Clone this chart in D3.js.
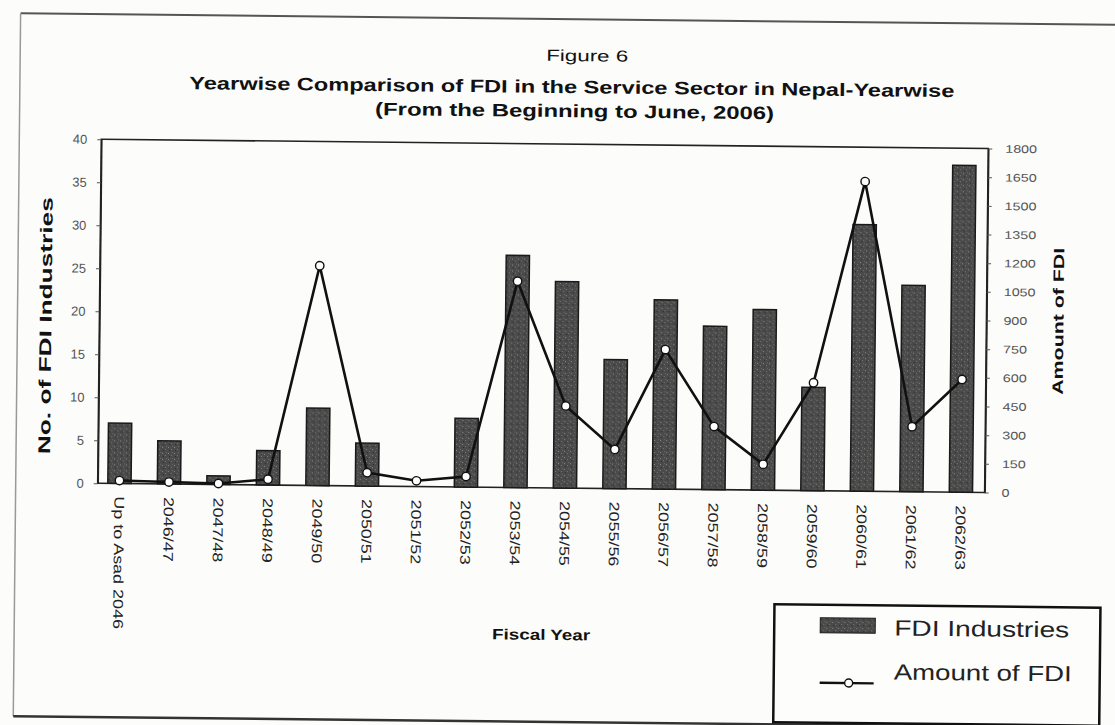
<!DOCTYPE html>
<html>
<head>
<meta charset="utf-8">
<script src="https://cdn.jsdelivr.net/npm/d3@7"></script>
<style>
  html, body { margin: 0; padding: 0; background: #fcfcfa; }
  svg { display: block; }
  text { font-family: "Liberation Sans", Arial, sans-serif; fill: #111; }
</style>
</head>
<body>
<svg id="chart" width="1115" height="725"></svg>
<script>
// Fiscal years (Nepali calendar)
const categories = ["Up to Asad 2046", "2046/47", "2047/48", "2048/49", "2049/50", "2050/51",
  "2051/52", "2052/53", "2053/54", "2054/55", "2055/56", "2056/57", "2057/58",
  "2058/59", "2059/60", "2060/61", "2061/62", "2062/63"];

// Number of FDI industries in the service sector (left axis)
const industries = [7, 5, 1, 4, 9, 5, 0, 8, 27, 24, 15, 22, 19, 21, 12, 31, 24, 38];

// Amount of FDI (right axis)
const amounts = [15, 10, 5, 30, 1150, 70, 30, 55, 1080, 430, 205, 730, 330, 135, 565, 1620, 340, 590];

// Tick values
const leftTicks = [0, 5, 10, 15, 20, 25, 30, 35, 40];
const rightTicks = [0, 150, 300, 450, 600, 750, 900, 1050, 1200, 1350, 1500, 1650, 1800];

const svg = d3.select("#chart");

// bar texture
const defs = svg.append("defs");
const pat = defs.append("pattern").attr("id", "grain")
  .attr("width", 6).attr("height", 6).attr("patternUnits", "userSpaceOnUse");
pat.append("rect").attr("width", 6).attr("height", 6).attr("fill", "#4a4a4a");
pat.append("rect").attr("x", 1).attr("y", 1).attr("width", 1).attr("height", 1).attr("fill", "#8a8a8a");
pat.append("rect").attr("x", 4).attr("y", 3).attr("width", 1).attr("height", 1).attr("fill", "#777");
pat.append("rect").attr("x", 2).attr("y", 4).attr("width", 1).attr("height", 1).attr("fill", "#2a2a2a");
pat.append("rect").attr("x", 5).attr("y", 0).attr("width", 1).attr("height", 1).attr("fill", "#6a6a6a");

// whole page is drawn slightly skewed, like the printed sheet
const g = svg.append("g").attr("transform", "rotate(0.6, 557, 362)");

// helper: widen text to a given length
function fitLength(sel, len) {
  sel.attr("textLength", len).attr("lengthAdjust", "spacingAndGlyphs");
}
function stretch(sel, k) {
  sel.each(function () {
    const w = this.getComputedTextLength();
    this.setAttribute("textLength", w * k);
    this.setAttribute("lengthAdjust", "spacingAndGlyphs");
  });
}

// outer sheet frame
g.append("line").attr("x1", 17).attr("x2", 1125).attr("y1", 19).attr("y2", 19)
  .attr("stroke", "#555").attr("stroke-width", 2);
g.append("line").attr("x1", 17).attr("x2", 17).attr("y1", 19).attr("y2", 722)
  .attr("stroke", "#999").attr("stroke-width", 1.5);
g.append("line").attr("x1", 17).attr("x2", 1125).attr("y1", 722).attr("y2", 722)
  .attr("stroke", "#333").attr("stroke-width", 2.5);

// titles
fitLength(g.append("text").attr("x", 584).attr("y", 61).attr("text-anchor", "middle")
  .attr("font-size", 16).text("Figure 6"), 82);
fitLength(g.append("text").attr("x", 569).attr("y", 93).attr("text-anchor", "middle")
  .attr("font-size", 18).attr("font-weight", "bold")
  .text("Yearwise Comparison of FDI in the Service Sector in Nepal-Yearwise"), 765);
fitLength(g.append("text").attr("x", 572).attr("y", 117).attr("text-anchor", "middle")
  .attr("font-size", 18).attr("font-weight", "bold")
  .text("(From the Beginning to June, 2006)"), 399);

// plot area
const plot = { left: 99, right: 986, top: 144, bottom: 488 };

const x = d3.scaleBand().domain(categories).range([96, 987])
  .paddingInner(0.53).paddingOuter(0.265);
const yL = d3.scaleLinear().domain([0, 40]).range([plot.bottom, plot.top]);
const yR = d3.scaleLinear().domain([0, 1800]).range([plot.bottom, plot.top]);

// frame
g.append("rect").attr("x", plot.left).attr("y", plot.top)
  .attr("width", plot.right - plot.left).attr("height", plot.bottom - plot.top)
  .attr("fill", "none").attr("stroke", "#222").attr("stroke-width", 1.6);

// left axis
const axL = g.append("g").attr("transform", `translate(${plot.left},0)`)
  .call(d3.axisLeft(yL).tickValues(leftTicks).tickSize(4).tickSizeOuter(0).tickPadding(10));
axL.select(".domain").attr("stroke", "#222").attr("stroke-width", 1.6);
axL.selectAll(".tick line").attr("stroke", "#555");
axL.selectAll(".tick text").attr("font-size", 13).style("fill", "#555")
  .style("font-family", "Liberation Sans, Arial, sans-serif");

// right axis
const axR = g.append("g").attr("transform", `translate(${plot.right},0)`)
  .call(d3.axisRight(yR).tickValues(rightTicks).tickFormat(d3.format("d"))
    .tickSize(4).tickSizeOuter(0).tickPadding(13));
axR.select(".domain").attr("stroke", "#222").attr("stroke-width", 1.6);
axR.selectAll(".tick line").attr("stroke", "#555");
axR.selectAll(".tick text").attr("font-size", 11).style("fill", "#555")
  .style("font-family", "Liberation Sans, Arial, sans-serif")
  .call(stretch, 1.3);

// axis titles
fitLength(g.append("text").attr("transform", "translate(51,331) rotate(-90)")
  .attr("text-anchor", "middle").attr("font-size", 17).attr("font-weight", "bold")
  .text("No. of FDI Industries"), 257);
fitLength(g.append("text").attr("transform", "translate(1063,316) rotate(-90)")
  .attr("text-anchor", "middle").attr("font-size", 15).attr("font-weight", "bold")
  .text("Amount of FDI"), 147);
fitLength(g.append("text").attr("x", 544).attr("y", 640).attr("text-anchor", "middle")
  .attr("font-size", 15).attr("font-weight", "bold").text("Fiscal Year"), 98);

// bars
g.append("g").selectAll("rect").data(categories).join("rect")
  .attr("x", (d) => x(d))
  .attr("width", x.bandwidth())
  .attr("y", (d, i) => yL(industries[i]))
  .attr("height", (d, i) => yL(0) - yL(industries[i]))
  .attr("fill", "url(#grain)")
  .attr("stroke", "#1a1a1a").attr("stroke-width", 1.5);

// category labels
g.append("g").selectAll("text").data(categories).join("text")
  .attr("transform", (d) => `translate(${x(d) + x.bandwidth() / 2},${plot.bottom + 13}) rotate(90)`)
  .attr("dy", "0.35em")
  .attr("font-size", 14)
  .style("fill", "#222")
  .text((d) => d)
  .call(stretch, 1.28);

// FDI amount line
const cx = (i) => x(categories[i]) + x.bandwidth() / 2;
const line = d3.line().x((d, i) => cx(i)).y((d) => yR(d));
g.append("path").datum(amounts).attr("d", line)
  .attr("fill", "none").attr("stroke", "#111").attr("stroke-width", 2.6)
  .attr("stroke-linejoin", "miter");
g.append("g").selectAll("circle").data(amounts).join("circle")
  .attr("cx", (d, i) => cx(i)).attr("cy", (d) => yR(d)).attr("r", 4.2)
  .attr("fill", "#fff").attr("stroke", "#111").attr("stroke-width", 1.4);

// legend
const lg = g.append("g");
lg.append("rect").attr("x", 777).attr("y", 602).attr("width", 326).attr("height", 118)
  .attr("fill", "#fdfdfb").attr("stroke", "#111").attr("stroke-width", 2.5);
lg.append("rect").attr("x", 823).attr("y", 615).attr("width", 55).attr("height", 15)
  .attr("fill", "url(#grain)").attr("stroke", "#1a1a1a").attr("stroke-width", 1);
fitLength(lg.append("text").attr("x", 897).attr("y", 632).attr("font-size", 22)
  .style("fill", "#222").text("FDI Industries"), 175);
lg.append("line").attr("x1", 823).attr("x2", 877).attr("y1", 680).attr("y2", 680)
  .attr("stroke", "#111").attr("stroke-width", 2.4);
lg.append("circle").attr("cx", 852).attr("cy", 680).attr("r", 4)
  .attr("fill", "#fff").attr("stroke", "#111").attr("stroke-width", 1.4);
fitLength(lg.append("text").attr("x", 897).attr("y", 676).attr("font-size", 22)
  .style("fill", "#222").text("Amount of FDI"), 178);
</script>
</body>
</html>
